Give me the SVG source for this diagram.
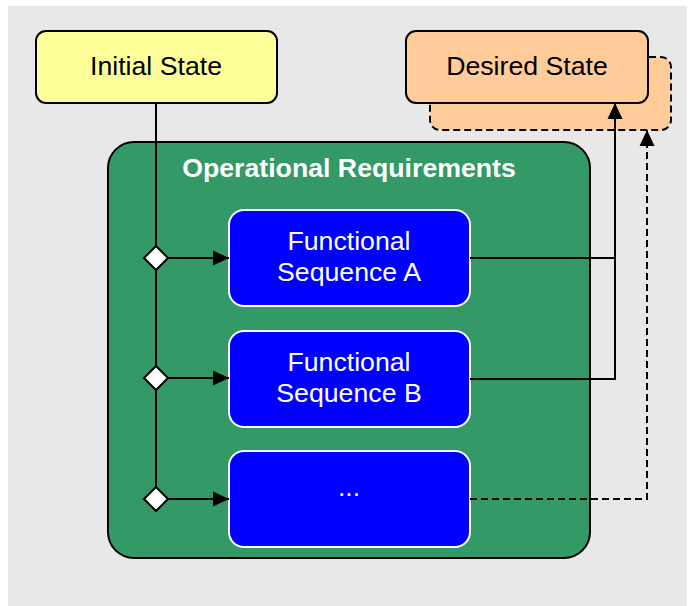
<svg xmlns="http://www.w3.org/2000/svg" width="693" height="606" viewBox="0 0 693 606">
<defs>
<style>
.state{stroke:#000;stroke-width:2}
.lbl{font-family:"Liberation Sans",Arial,sans-serif;font-size:26.7px;text-anchor:middle}
.seq{fill:#0000FF;stroke:#fff;stroke-width:2}
.w{fill:#fff}
.con{fill:none;stroke:#000;stroke-width:2}
.dash{stroke-dasharray:7,4}
.dia{fill:#fff;stroke:#000;stroke-width:2}
</style>
<marker id="ah" viewBox="0 0 16 16" refX="16" refY="8" markerWidth="16" markerHeight="16" markerUnits="userSpaceOnUse" orient="auto">
<path d="M0,0.5 L16,8 L0,15.5 Z" fill="#000"/>
</marker>
</defs>
<rect x="8" y="6" width="679" height="600" fill="#E8E8E8"/>
<g id="desired-state-shadow">
<rect x="430" y="57" width="241" height="73" rx="10" fill="#FFCC99" stroke="#000" stroke-width="2" stroke-dasharray="7,4"/>
</g>
<g id="operational-requirements">
<rect x="108" y="142" width="482" height="416" rx="26" fill="#339966" stroke="#000" stroke-width="2"/>
<text class="lbl w" x="349" y="177" font-weight="bold">Operational Requirements</text>
</g>
<g id="initial-state">
<rect class="state" x="36" y="31" width="241" height="72" rx="10" fill="#FFFF99"/>
<text class="lbl" x="156" y="75">Initial State</text>
</g>
<g id="desired-state">
<rect class="state" x="406" y="31" width="242" height="72" rx="10" fill="#FFCC99"/>
<text class="lbl" x="527" y="75">Desired State</text>
</g>
<g id="seq-a">
<rect class="seq" x="229" y="210" width="241" height="96" rx="15"/>
<text class="lbl w" x="349" y="250">Functional</text>
<text class="lbl w" x="349" y="281">Sequence A</text>
</g>
<g id="seq-b">
<rect class="seq" x="229" y="331" width="241" height="96" rx="15"/>
<text class="lbl w" x="349" y="371">Functional</text>
<text class="lbl w" x="349" y="402">Sequence B</text>
</g>
<g id="seq-more">
<rect class="seq" x="229" y="451" width="241" height="96" rx="15"/>
<text class="lbl w" x="349" y="496">...</text>
</g>
<g id="connectors">
<path class="con" d="M156,103 V499"/>
<path class="con" d="M168,258 H229" marker-end="url(#ah)"/>
<path class="con" d="M168,378 H229" marker-end="url(#ah)"/>
<path class="con" d="M168,499 H229" marker-end="url(#ah)"/>
<path class="con" d="M470,258 H615"/>
<path class="con" d="M470,379 H615 V103" marker-end="url(#ah)"/>
<path class="con dash" d="M470,499 H647 V130" marker-end="url(#ah)"/>
<path class="dia" d="M156,246 L168,258 L156,270 L144,258 Z"/>
<path class="dia" d="M156,366 L168,378 L156,390 L144,378 Z"/>
<path class="dia" d="M156,487 L168,499 L156,511 L144,499 Z"/>
</g>
</svg>
